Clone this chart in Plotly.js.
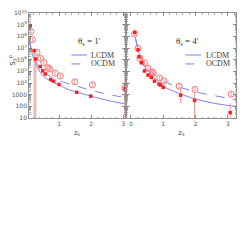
<!DOCTYPE html>
<html>
<head>
<meta charset="utf-8">
<script src="https://cdn.plot.ly/plotly-3.0.1.min.js"></script>
<style>html,body{margin:0;padding:0;background:#fff;}#chart{width:249px;height:249px;}</style>
</head>
<body>
<div id="chart"></div>
<script>
// ---------- data ----------
// theta_s = 1'
const leftFilledZ   = [0.10, 0.22, 0.27, 0.41, 0.49, 0.57, 0.74, 0.83, 1.00, 1.55, 1.99, 3.06];
const leftFilledS   = [8e8, 6e6, 1.15e6, 2.5e5, 1.1e5, 6e4, 2e4, 1.45e4, 7.5e3, 1.6e3, 750, 3.2e3];
const leftFilledHi  = [1.6e9, 9e6, 1.6e6, 3.3e5, 1.4e5, 7.6e4, 2.5e4, 1.8e4, 9.5e3, 2e3, 950, 2.5e4];
const leftFilledLo  = [3.5e8, 10, 10, 1.9e5, 8.5e4, 4.7e4, 1.6e4, 1.15e4, 5.8e3, 1.3e3, 600, 10];

const leftOpenZ  = [0.12, 0.17, 0.31, 0.42, 0.52, 0.65, 0.70, 0.88, 1.04, 1.49, 2.04, 3.06];
const leftOpenS  = [2.5e8, 5.2e7, 4.2e6, 1.3e6, 5.7e5, 2.1e5, 1.6e5, 7e4, 4e4, 1.25e4, 7e3, 3.6e3];
const leftOpenHi = [3.8e8, 7.5e7, 6e6, 1.9e6, 8e5, 3e5, 2.3e5, 1e5, 5.8e4, 1.8e4, 1e4, 5e3];
const leftOpenLo = [1.7e8, 3.5e7, 2.9e6, 9e5, 4e5, 1.5e5, 1.1e5, 5e4, 2.8e4, 8.5e3, 4.8e3, 2.5e3];

const leftCurveZ = [0.08, 0.15, 0.25, 0.35, 0.5, 0.75, 1.0, 1.34, 1.5, 2.0, 2.5, 3.06];
const leftLCDM   = [2.8e7, 4e6, 6.3e5, 1.6e5, 4e4, 1.4e4, 6.6e3, 2.45e3, 1.85e3, 740, 330, 160];
const leftOCDM   = [4e7, 5.6e6, 1e6, 3.2e5, 9e4, 3.5e4, 1.6e4, 8e3, 6e3, 2.35e3, 1.1e3, 560];

// theta_s = 4'
const rightFilledZ  = [0.12, 0.22, 0.25, 0.32, 0.42, 0.53, 0.63, 0.73, 0.87, 0.92, 1.00, 1.54, 1.97, 3.07];
const rightFilledS  = [2.2e8, 7e6, 1.8e6, 5.5e5, 1.07e5, 4.8e4, 3e4, 1.45e4, 8e3, 6.6e3, 4.2e3, 900, 320, 29];
const rightFilledHi = [4e8, 9e6, 2.3e6, 7e5, 1.35e5, 6e4, 3.7e4, 1.8e4, 1e4, 8.2e3, 5.2e3, 3e3, 1.3e3, 180];
const rightFilledLo = [1.2e8, 5.4e6, 1.4e6, 4.3e5, 8.5e4, 3.8e4, 2.4e4, 1.15e4, 6.3e3, 5.2e3, 3.3e3, 180, 10, 10];

const rightOpenZ  = [0.11, 0.22, 0.28, 0.42, 0.53, 0.66, 0.69, 0.89, 1.02, 1.49, 1.98, 3.10];
const rightOpenS  = [1.55e8, 9.5e6, 1.3e6, 5.5e5, 1.8e5, 9.3e4, 6.8e4, 2.8e4, 1.55e4, 5.4e3, 2.8e3, 1.1e3];
const rightOpenHi = [2.3e8, 1.4e7, 1.9e6, 8e5, 2.6e5, 1.35e5, 1e5, 4e4, 2.2e4, 7.8e3, 4e3, 1.6e3];
const rightOpenLo = [1.05e8, 6.5e6, 9e5, 3.8e5, 1.25e5, 6.4e4, 4.7e4, 1.9e4, 1.05e4, 3.7e3, 1.9e3, 750];

const rightCurveZ = [0.14, 0.25, 0.43, 0.74, 1.05, 1.5, 2.0, 2.5, 3.0, 3.25];
const rightLCDM   = [7e7, 3.5e6, 2.5e5, 2.5e4, 4.5e3, 1.25e3, 420, 200, 120, 100];
const rightOCDM   = [8e7, 5e6, 4e5, 5e4, 1.25e4, 4.5e3, 1.75e3, 900, 500, 350];

const yTickVals = [10, 100, 1000, 1e4, 1e5, 1e6, 1e7, 1e8, 1e9, 1e10];
const yTickText = ['10', '100', '1000', '10<sup>4</sup>', '10<sup>5</sup>', '10<sup>6</sup>', '10<sup>7</sup>', '10<sup>8</sup>', '10<sup>9</sup>', '10<sup>10</sup>'];
const xTickVals = [0, 1, 2, 3];
const xTickText = ['0', '1', '2', '3'];
const curveNames = ['LCDM', 'OCDM'];
const panelLabels = ["θ<sub>s</sub> = 1'", "θ<sub>s</sub> = 4'"];

// ---------- styling ----------
const filledColor = '#ff1f1f';
const openColor = '#ff7070';
const errColor = '#ff9090';
const curveColor = '#8080f0';

function errs(s, hi, lo) {
  return {
    type: 'data', symmetric: false,
    array: s.map((v, i) => hi[i] - v),
    arrayminus: s.map((v, i) => v - lo[i]),
    color: errColor, thickness: 1, width: 0
  };
}
function pts(x, y, hi, lo, filled, xa, ya) {
  return {
    x: x, y: y, xaxis: xa, yaxis: ya, type: 'scatter', mode: 'markers', showlegend: false,
    error_y: errs(y, hi, lo),
    marker: filled
      ? {symbol: 'square', size: 3.5, color: filledColor, line: {width: 0}}
      : {symbol: 'circle-open', size: 6, color: openColor, line: {width: 1, color: openColor}}
  };
}
function curve(x, y, name, dash, xa, ya) {
  return {
    x: x, y: y, xaxis: xa, yaxis: ya, type: 'scatter', mode: 'lines', name: name, showlegend: false,
    line: {color: curveColor, width: 1, dash: dash, shape: 'spline', smoothing: 1}
  };
}

const traces = [
  curve(leftCurveZ, leftLCDM, curveNames[0], 'solid', 'x', 'y'),
  curve(leftCurveZ, leftOCDM, curveNames[1], 'dash', 'x', 'y'),
  pts(leftOpenZ, leftOpenS, leftOpenHi, leftOpenLo, false, 'x', 'y'),
  pts(leftFilledZ, leftFilledS, leftFilledHi, leftFilledLo, true, 'x', 'y'),
  curve(rightCurveZ, rightLCDM, curveNames[0], 'solid', 'x2', 'y2'),
  curve(rightCurveZ, rightOCDM, curveNames[1], 'dash', 'x2', 'y2'),
  pts(rightOpenZ, rightOpenS, rightOpenHi, rightOpenLo, false, 'x2', 'y2'),
  pts(rightFilledZ, rightFilledS, rightFilledHi, rightFilledLo, true, 'x2', 'y2')
];

const tickFont = {family: 'DejaVu Sans, sans-serif', size: 6, color: '#555'};
const frame = '#777';
function xAxis(domain, range, anchor) {
  return {
    domain: domain, range: range, anchor: anchor, showgrid: false, zeroline: false,
    tickmode: 'array', tickvals: xTickVals, ticktext: xTickText,
    ticks: 'inside', ticklen: 3, tickcolor: frame, tickwidth: 0.8,
    minor: {ticks: 'inside', ticklen: 1.5, dtick: 0.2, tickcolor: frame, tickwidth: 0.6},
    showline: true, linecolor: frame, linewidth: 0.8, mirror: 'allticks',
    tickfont: tickFont,
    title: {text: 'z<sub>s</sub>', font: {family: 'DejaVu Sans, sans-serif', size: 7, color: '#444'}, standoff: 3}
  };
}
function yAxis(anchor, labels) {
  return {
    type: 'log', range: [1, 10], anchor: anchor, showgrid: false, zeroline: false,
    tickmode: 'array', tickvals: yTickVals, ticktext: yTickText, showticklabels: labels,
    ticks: 'inside', ticklen: 3, tickcolor: frame, tickwidth: 0.8,
    minor: {ticks: 'inside', ticklen: 1.5, dtick: 'D1', tickcolor: frame, tickwidth: 0.6},
    showline: true, linecolor: frame, linewidth: 0.8, mirror: 'allticks',
    tickfont: tickFont
  };
}

const serif = 'Liberation Serif, serif';
const legY = [0.60, 0.515];
const legLeft = {x0: 0.205, x1: 0.28, tx: 0.29};
const legRight = {x0: 0.755, x1: 0.832, tx: 0.845};
const shapes = [];
const annotations = [
  {text: panelLabels[0], xref: 'x', yref: 'paper', x: 1.95, y: 0.80, showarrow: false,
   font: {family: serif, size: 9, color: '#333'}},
  {text: panelLabels[1], xref: 'x2', yref: 'paper', x: 1.75, y: 0.80, showarrow: false,
   font: {family: serif, size: 9, color: '#333'}},
  {text: 'S<sub>3</sub><sup>p</sup>', xref: 'paper', yref: 'paper', x: -0.113, y: 0.55,
   textangle: -90, showarrow: false, font: {family: 'DejaVu Sans, sans-serif', size: 7, color: '#444'}}
];
[legLeft, legRight].forEach(L => {
  curveNames.forEach((n, i) => {
    shapes.push({type: 'line', xref: 'paper', yref: 'paper', x0: L.x0, x1: L.x1, y0: legY[i], y1: legY[i],
                 line: {color: curveColor, width: 1, dash: i ? 'dash' : 'solid'}});
    annotations.push({text: n, xref: 'paper', yref: 'paper', x: L.tx, y: legY[i], xanchor: 'left',
                      showarrow: false, font: {family: serif, size: 8, color: '#444'}});
  });
});

const layout = {
  width: 249, height: 249,
  margin: {l: 29, r: 13, t: 13, b: 131},
  paper_bgcolor: '#fff', plot_bgcolor: '#fff',
  showlegend: false,
  xaxis: xAxis([0, 0.4638], [0.06, 3.06], 'y'),
  xaxis2: xAxis([0.4734, 1], [-0.12, 3.25], 'y2'),
  yaxis: yAxis('x', true),
  yaxis2: Object.assign(yAxis('x2', false), {matches: 'y'}),
  shapes: shapes,
  annotations: annotations
};

Plotly.newPlot('chart', traces, layout, {displayModeBar: false, staticPlot: true});
</script>
</body>
</html>
